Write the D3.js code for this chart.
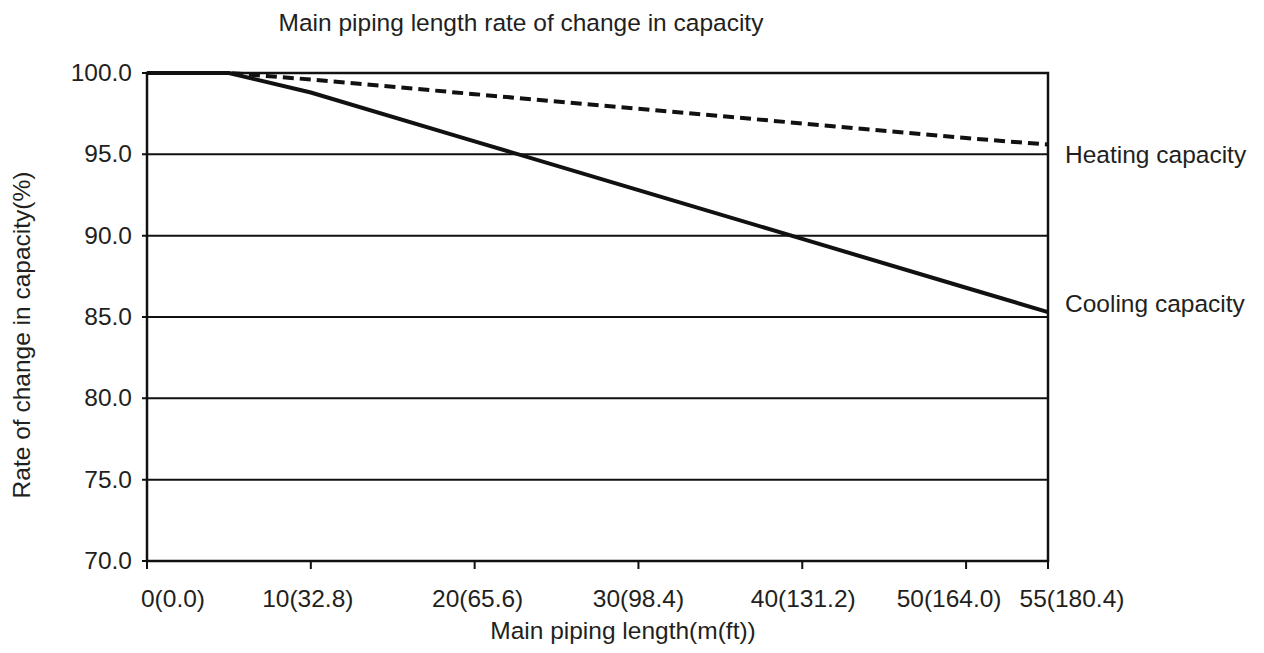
<!DOCTYPE html>
<html>
<head>
<meta charset="utf-8">
<script src="https://cdn.jsdelivr.net/npm/d3@7/dist/d3.min.js"></script>
<style>
  html, body { margin: 0; padding: 0; background: #fff; }
  svg text { font-family: "Liberation Sans", Arial, Helvetica, sans-serif; fill: #231f20; }
</style>
</head>
<body>
<svg id="chart" width="1264" height="653"></svg>
<script>
// piping length in m, with ft in the label
const lengths = [0, 5, 10, 20, 30, 40, 50, 55];
const cooling = [100, 100, 98.8, 95.8, 92.8, 89.8, 86.8, 85.3];
const heating = [100, 100, 99.6, 98.7, 97.8, 96.9, 96.0, 95.6];

const xTicks = [0, 10, 20, 30, 40, 50, 55];
const xTickLabels = ['0(0.0)', '10(32.8)', '20(65.6)', '30(98.4)', '40(131.2)', '50(164.0)', '55(180.4)'];
const yTicks = [70, 75, 80, 85, 90, 95, 100];

const title = 'Main piping length rate of change in capacity';
const xTitle = 'Main piping length(m(ft))';
const yTitle = 'Rate of change in capacity(%)';

// label nudges so the crowded labels at the ends don't collide
const xLabelShift = [26, -3, 3, 0, 1, -17, 24];

const fontSize = 24.5;
const m = { left: 147, right: 1048, top: 73, bottom: 561 };

const svg = d3.select('#chart');

const x = d3.scaleLinear().domain([0, 55]).range([m.left, m.right]);
const y = d3.scaleLinear().domain([70, 100]).range([m.bottom, m.top]);

// horizontal grid
svg.append('g')
  .selectAll('line')
  .data(yTicks)
  .enter().append('line')
  .attr('x1', m.left - 5)
  .attr('x2', m.right)
  .attr('y1', d => y(d))
  .attr('y2', d => y(d))
  .attr('stroke', '#111')
  .attr('stroke-width', 2);

// frame
svg.append('rect')
  .attr('x', m.left)
  .attr('y', m.top)
  .attr('width', m.right - m.left)
  .attr('height', m.bottom - m.top)
  .attr('fill', 'none')
  .attr('stroke', '#111')
  .attr('stroke-width', 2.5);

// x ticks
svg.append('g')
  .selectAll('line')
  .data(xTicks)
  .enter().append('line')
  .attr('x1', d => x(d))
  .attr('x2', d => x(d))
  .attr('y1', m.bottom)
  .attr('y2', m.bottom + 8)
  .attr('stroke', '#111')
  .attr('stroke-width', 2);

svg.append('g')
  .selectAll('text')
  .data(xTicks)
  .enter().append('text')
  .attr('x', (d, i) => x(d) + xLabelShift[i])
  .attr('y', 607)
  .attr('text-anchor', 'middle')
  .style('font-size', fontSize + 'px')
  .text((d, i) => xTickLabels[i]);

svg.append('g')
  .selectAll('text')
  .data(yTicks)
  .enter().append('text')
  .attr('x', 132)
  .attr('y', d => y(d) + 8)
  .attr('text-anchor', 'end')
  .style('font-size', fontSize + 'px')
  .text(d => d.toFixed(1));

// series
const line = d3.line()
  .x((d, i) => x(lengths[i]))
  .y(d => y(d));

svg.append('path')
  .datum(heating)
  .attr('d', line)
  .attr('fill', 'none')
  .attr('stroke', '#111')
  .attr('stroke-width', 4)
  .attr('stroke-dasharray', '11,6');

svg.append('path')
  .datum(cooling)
  .attr('d', line)
  .attr('fill', 'none')
  .attr('stroke', '#111')
  .attr('stroke-width', 4);

svg.append('text')
  .attr('x', 1065)
  .attr('y', y(heating[heating.length - 1]) + 18)
  .style('font-size', fontSize + 'px')
  .text('Heating capacity');

svg.append('text')
  .attr('x', 1065)
  .attr('y', y(cooling[cooling.length - 1]))
  .style('font-size', fontSize + 'px')
  .text('Cooling capacity');

// titles
svg.append('text')
  .attr('x', 521)
  .attr('y', 31)
  .attr('text-anchor', 'middle')
  .style('font-size', fontSize + 'px')
  .text(title);

svg.append('text')
  .attr('x', 623)
  .attr('y', 639)
  .attr('text-anchor', 'middle')
  .style('font-size', fontSize + 'px')
  .text(xTitle);

svg.append('text')
  .attr('transform', 'translate(30,335) rotate(-90)')
  .attr('text-anchor', 'middle')
  .style('font-size', fontSize + 'px')
  .text(yTitle);
</script>
</body>
</html>
